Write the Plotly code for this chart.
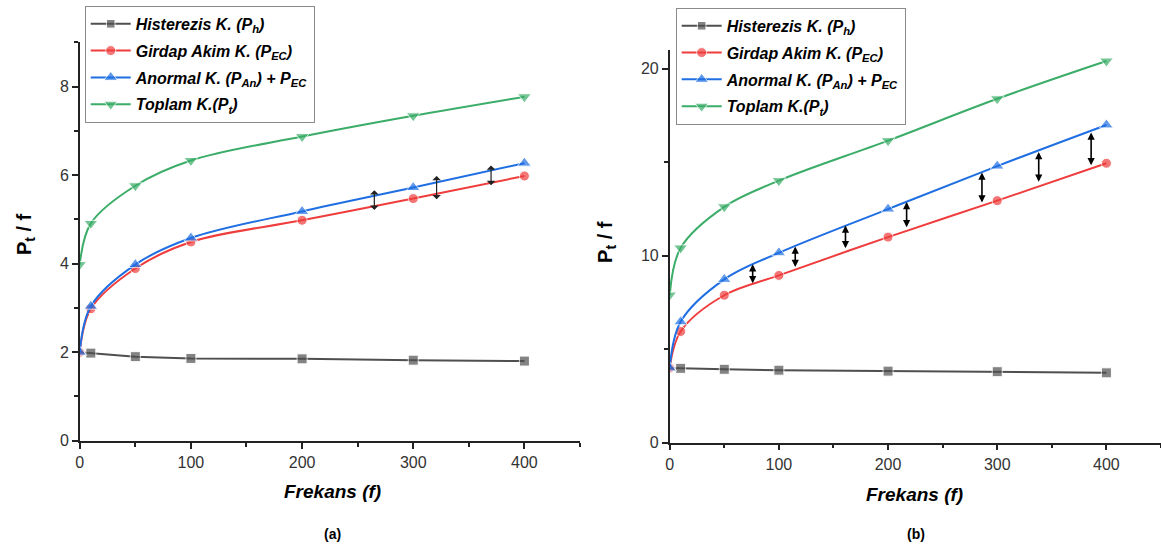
import plotly.graph_objects as go

# ---------------- data ----------------
freq = [0, 10, 50, 100, 200, 300, 400]

# panel (a)
hys_a = [2.0, 1.98, 1.90, 1.86, 1.85, 1.82, 1.80]
ec_a = [2.0, 2.98, 3.89, 4.49, 4.98, 5.47, 5.98]
an_a = [2.0, 3.04, 3.98, 4.58, 5.18, 5.72, 6.27]
tot_a = [3.98, 4.91, 5.76, 6.33, 6.87, 7.34, 7.77]

# panel (b)
hys_b = [4.0, 3.98, 3.93, 3.88, 3.83, 3.80, 3.74]
ec_b = [4.0, 5.95, 7.89, 8.95, 11.0, 12.95, 14.95]
an_b = [4.0, 6.47, 8.74, 10.16, 12.5, 14.8, 17.0]
tot_b = [7.9, 10.42, 12.62, 14.02, 16.16, 18.4, 20.42]

# double arrows between P_An+P_EC and P_EC
arr_a_x = [265, 321, 370]
arr_a_top = [5.66, 5.98, 6.22]
arr_a_bot = [5.18, 5.42, 5.74]

arr_b_x = [76, 115, 161, 217, 286, 338, 386]
arr_b_top = [9.55, 10.5, 11.62, 12.88, 14.45, 15.55, 16.6]
arr_b_bot = [8.45, 9.32, 10.33, 11.45, 12.77, 13.88, 14.77]

names = [
    "<b><i>Histerezis K. (P<sub>h</sub>)</i></b>",
    "<b><i>Girdap Akim K. (P<sub>EC</sub>)</i></b>",
    "<b><i>Anormal K. (P<sub>An</sub>) + P<sub>EC</sub></i></b>",
    "<b><i>Toplam K.(P<sub>t</sub>)</i></b>",
]

x_ticks = [0, 100, 200, 300, 400]

# ---------------- styles ----------------
colors = ["#4f4f4f", "#ef3d3d", "#1f6fe3", "#3bad68"]
symbols = ["square", "circle", "triangle-up", "triangle-down"]
msizes = [10, 10, 12, 12]
FONT = "Liberation Sans, Arial, sans-serif"

fig = go.Figure()

panels = [
    ("x", "y", "legend", [hys_a, ec_a, an_a, tot_a]),
    ("x2", "y2", "legend2", [hys_b, ec_b, an_b, tot_b]),
]

for xa, ya, leg, series in panels:
    for i, ys in enumerate(series):
        size = msizes[i]
        msize = [size] * len(freq)
        if i == 0:
            msize[0] = 0
        fig.add_trace(go.Scatter(
            x=freq, y=ys, xaxis=xa, yaxis=ya, legend=leg,
            name=names[i], legendgroup=f"{leg}_{i}",
            mode="lines+markers",
            line=dict(color=colors[i], width=2, shape="spline" if i > 0 else "linear"),
            marker=dict(symbol=symbols[i], size=msize, color=colors[i]),
        ))

# arrows
for x, t, b in zip(arr_a_x, arr_a_top, arr_a_bot):
    fig.add_annotation(x=x, y=t, ax=x, ay=b, xref="x", yref="y", axref="x", ayref="y",
                       text="", showarrow=True, arrowside="end+start", arrowhead=1,
                       arrowsize=1.2, arrowwidth=1.2, arrowcolor="#222222")
for x, t, b in zip(arr_b_x, arr_b_top, arr_b_bot):
    fig.add_annotation(x=x, y=t, ax=x, ay=b, xref="x2", yref="y2", axref="x2", ayref="y2",
                       text="", showarrow=True, arrowside="end+start", arrowhead=2,
                       arrowsize=0.9, arrowwidth=1.6, arrowcolor="#000000")

W, H = 1161, 557

axis_common = dict(
    showgrid=False, zeroline=False, showline=True, linecolor="#222222", linewidth=1.5,
    ticks="outside", ticklen=6, tickwidth=1.5, tickcolor="#222222",
    tickfont=dict(family=FONT, size=16, color="#333333"),
)

legend_common = dict(
    xanchor="left", yanchor="top",
    bordercolor="#8a8a8a", borderwidth=1, bgcolor="white",
    font=dict(family=FONT, size=16, color="#000000"),
    tracegroupgap=3, itemwidth=40,
)

fig.update_layout(
    width=W, height=H,
    margin=dict(l=0, r=0, t=0, b=0),
    paper_bgcolor="white", plot_bgcolor="white",
    font=dict(family=FONT, color="#000000"),
    xaxis=dict(domain=[76 / W, 578 / W], range=[0, 450], tickvals=x_ticks, anchor="y",
               minor=dict(ticks="outside", ticklen=4, dtick=50, tick0=0, tickcolor="#222222", tickwidth=1.5),
               **axis_common),
    yaxis=dict(domain=[(H - 448) / H, (H - 43) / H], range=[0, 9], dtick=2, anchor="x",
               minor=dict(ticks="outside", ticklen=4, dtick=1, tick0=0, tickcolor="#222222", tickwidth=1.5),
               **axis_common),
    xaxis2=dict(domain=[668 / W, 1.0], range=[0, 450], tickvals=x_ticks, anchor="y2",
                minor=dict(ticks="outside", ticklen=4, dtick=50, tick0=0, tickcolor="#222222", tickwidth=1.5),
                **axis_common),
    yaxis2=dict(domain=[(H - 450) / H, (H - 51) / H], range=[0, 21], dtick=10, anchor="x2",
                minor=dict(ticks="outside", ticklen=4, dtick=5, tick0=0, tickcolor="#222222", tickwidth=1.5),
                **axis_common),
    legend=dict(x=81 / W, y=1 - 6 / H, **legend_common),
    legend2=dict(x=674 / W, y=1 - 8 / H, **legend_common),
    showlegend=True,
)

# axis titles and captions
title_font = dict(family=FONT, size=19, color="#000000")
ann_common = dict(xref="paper", yref="paper", showarrow=False, xanchor="center", yanchor="middle")
fig.add_annotation(x=330 / W, y=1 - 500 / H, text="<b><i>Frekans (f)</i></b>", font=title_font, **ann_common)
fig.add_annotation(x=914 / W, y=1 - 503 / H, text="<b><i>Frekans (f)</i></b>", font=title_font, **ann_common)
fig.add_annotation(x=21 / W, y=1 - 238 / H, text="<b>P<sub>t</sub> / f</b>", textangle=-90,
                   font=dict(family=FONT, size=20, color="#000000"), **ann_common)
fig.add_annotation(x=604 / W, y=1 - 246 / H, text="<b>P<sub>t</sub> / f</b>", textangle=-90,
                   font=dict(family=FONT, size=20, color="#000000"), **ann_common)
cap_font = dict(family=FONT, size=14, color="#000000")
fig.add_annotation(x=330 / W, y=1 - 543 / H, text="<b>(a)</b>", font=cap_font, **ann_common)
fig.add_annotation(x=915 / W, y=1 - 543 / H, text="<b>(b)</b>", font=cap_font, **ann_common)

fig.write_html("out.html")
